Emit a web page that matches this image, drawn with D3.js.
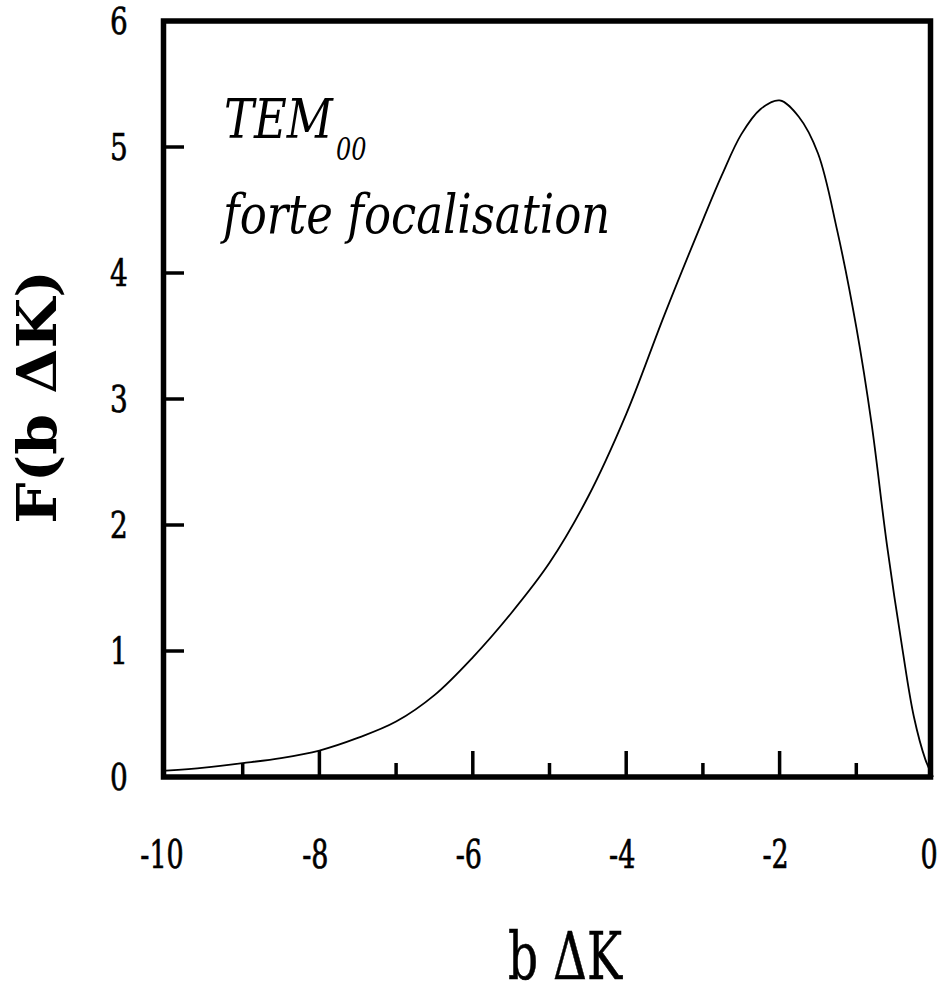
<!DOCTYPE html>
<html>
<head>
<meta charset="utf-8">
<script src="https://cdn.jsdelivr.net/npm/d3@7"></script>
<style>
  html, body { margin: 0; padding: 0; background: #fff; }
  svg { display: block; }
</style>
</head>
<body>
<svg id="chart" width="949" height="995"></svg>
<script>
// ---- data ----
const bDeltaK = [-10, -9.5, -9, -8.5, -8, -7.5, -7, -6.5, -6, -5.5, -5, -4.5, -4, -3.5, -3,
                 -2.75, -2.5, -2.25, -2, -1.75, -1.5, -1.25, -1, -0.8, -0.6, -0.4, -0.25, -0.1, 0];
const Fvalues = [0.05, 0.075, 0.11, 0.15, 0.21, 0.31, 0.44, 0.65, 0.95, 1.30, 1.70, 2.22, 2.88, 3.67, 4.42,
                 4.78, 5.10, 5.30, 5.37, 5.24, 4.95, 4.34, 3.57, 2.80, 1.84, 1.02, 0.48, 0.14, 0.0];
const xMajorTicks = [-10, -8, -6, -4, -2, 0];
const xMinorTicks = [-9, -7, -5, -3, -1];
const yTicks = [0, 1, 2, 3, 4, 5, 6];
const xTitle = "b ΔK";
const yTitle = "F(b ΔK)";
const annotLine1 = "TEM";
const annotSub = "00";
const annotLine2 = "forte focalisation";

const svg = d3.select("#chart");
const x = d3.scaleLinear().domain([-10, 0]).range([166, 933]);
const y = d3.scaleLinear().domain([0, 6]).range([777, 21]);

const serif = "'DejaVu Serif', 'Liberation Serif', serif";

// curve
const pts = bDeltaK.map((v, i) => [v, Fvalues[i]]);
svg.append("path")
  .datum(pts)
  .attr("fill", "none")
  .attr("stroke", "#000")
  .attr("stroke-width", 1.8)
  .attr("d", d3.line().x(d => x(d[0])).y(d => y(d[1])).curve(d3.curveCatmullRom.alpha(0.5)));

// ticks (inward)
const gT = svg.append("g").attr("stroke", "#000");
gT.selectAll("line.xmaj").data(xMajorTicks.slice(1, -1)).join("line")
  .attr("x1", d => x(d)).attr("x2", d => x(d))
  .attr("y1", y(0)).attr("y2", y(0) - 26).attr("stroke-width", 3.5);
gT.selectAll("line.xmin").data(xMinorTicks).join("line")
  .attr("x1", d => x(d)).attr("x2", d => x(d))
  .attr("y1", y(0)).attr("y2", y(0) - 14).attr("stroke-width", 3.5);
gT.selectAll("line.y").data(yTicks.slice(1, -1)).join("line")
  .attr("x1", x(-10) - 2).attr("x2", x(-10) + 18)
  .attr("y1", d => y(d)).attr("y2", d => y(d)).attr("stroke-width", 3.5);

// frame
svg.append("rect")
  .attr("x", x(-10) - 2.5).attr("y", y(6))
  .attr("width", x(0) - x(-10)).attr("height", y(0) - y(6))
  .attr("fill", "none").attr("stroke", "#000").attr("stroke-width", 5.5);

// y tick labels
svg.selectAll("text.ytl").data(yTicks).join("text")
  .attr("class", "ytl")
  .attr("transform", d => `translate(119,${y(d) + 13}) scale(1,1.3)`)
  .attr("text-anchor", "middle")
  .attr("font-family", serif).attr("font-size", 28)
  .attr("stroke", "#000").attr("stroke-width", 0.5)
  .text(d => d);

// x tick labels
svg.selectAll("text.xtl").data(xMajorTicks).join("text")
  .attr("class", "xtl")
  .attr("transform", d => `translate(${x(d) - 4},868) scale(1,1.45)`)
  .attr("text-anchor", "middle")
  .attr("font-family", serif).attr("font-size", 27)
  .attr("stroke", "#000").attr("stroke-width", 0.5)
  .text(d => d);

// axis titles
svg.append("text")
  .attr("transform", "translate(565,979) scale(1,1.38)")
  .attr("text-anchor", "middle")
  .attr("font-family", serif).attr("font-size", 47)
  .attr("stroke", "#000").attr("stroke-width", 0.4)
  .text(xTitle);

svg.append("text")
  .attr("transform", "translate(56,397) rotate(-90) scale(1.06,1)")
  .attr("text-anchor", "middle")
  .attr("font-family", serif).attr("font-size", 55).attr("font-weight", "bold")
  .text(yTitle);

// annotation
svg.append("text")
  .attr("transform", "translate(224,138) scale(1,1.22)")
  .attr("font-family", serif).attr("font-size", 45).attr("font-style", "italic")
  .text(annotLine1);
svg.append("text")
  .attr("transform", "translate(336,160) scale(1,1.3)")
  .attr("font-family", serif).attr("font-size", 24).attr("font-style", "italic")
  .text(annotSub);
svg.append("text")
  .attr("transform", "translate(223,233) scale(1,1.2)")
  .attr("font-family", serif).attr("font-size", 45).attr("font-style", "italic")
  .text(annotLine2);
</script>
</body>
</html>
